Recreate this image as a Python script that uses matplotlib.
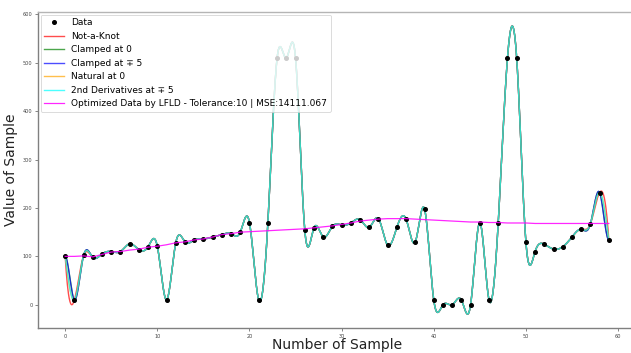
import numpy as np
import matplotlib
matplotlib.use("Agg")
import matplotlib.pyplot as plt

# ---- data ----
sample_x = list(range(60))
sample_y = [100, 10, 102, 98, 105, 110, 110, 126, 114, 120,
            121, 10, 128, 130, 134, 136, 140, 145, 147, 150,
            170, 10, 170, 510, 510, 510, 155, 159, 140, 162,
            165, 169, 176, 160, 178, 123, 160, 177, 130, 198,
            10, 0, 0, 10, 0, 170, 10, 170, 510, 510,
            130, 110, 125, 115, 120, 140, 156, 167, 232, 134]

optimized_y = [100, 100, 101, 99, 104, 109, 110, 113, 115, 119,
               121, 124, 128, 130, 134, 136, 140, 145, 147, 150,
               151, 152, 153, 154, 155, 156, 157, 159, 161, 163,
               166, 169, 173, 175, 177, 178, 178, 178, 177, 176,
               175, 174, 173, 172, 171, 171, 170, 170, 169, 169,
               169, 168, 168, 168, 168, 168, 168, 168, 168, 168]

series_labels = ["Not-a-Knot", "Clamped at 0", "Clamped at \u2213 5",
                 "Natural at 0", "2nd Derivatives at \u2213 5"]
series_bc = [("notaknot", None, None), ("d1", 0, 0), ("d1", -5, 5),
             ("d2", 0, 0), ("d2", -5, 5)]
series_colors = ["red", "green", "blue", "orange", "cyan"]
legend_last = "Optimized Data by LFLD - Tolerance:10 | MSE:14111.067"


def cubic_spline(x, y, kind, a, b):
    x = np.asarray(x, float)
    y = np.asarray(y, float)
    n = len(x) - 1
    h = np.diff(x)
    A = np.zeros((n + 1, n + 1))
    r = np.zeros(n + 1)
    for i in range(1, n):
        A[i, i - 1] = h[i - 1]
        A[i, i] = 2 * (h[i - 1] + h[i])
        A[i, i + 1] = h[i]
        r[i] = 6 * ((y[i + 1] - y[i]) / h[i] - (y[i] - y[i - 1]) / h[i - 1])
    if kind == "d2":
        A[0, 0] = 1
        r[0] = a
        A[n, n] = 1
        r[n] = b
    elif kind == "d1":
        A[0, 0] = 2 * h[0]
        A[0, 1] = h[0]
        r[0] = 6 * ((y[1] - y[0]) / h[0] - a)
        A[n, n - 1] = h[n - 1]
        A[n, n] = 2 * h[n - 1]
        r[n] = 6 * (b - (y[n] - y[n - 1]) / h[n - 1])
    else:
        A[0, 0] = h[1]
        A[0, 1] = -(h[0] + h[1])
        A[0, 2] = h[0]
        A[n, n - 2] = h[n - 1]
        A[n, n - 1] = -(h[n - 2] + h[n - 1])
        A[n, n] = h[n - 2]
    M = np.linalg.solve(A, r)

    def f(t):
        t = np.asarray(t, float)
        i = np.clip(np.searchsorted(x, t) - 1, 0, n - 1)
        hi = h[i]
        xl = x[i]
        xr = x[i + 1]
        return (M[i] * (xr - t) ** 3 / (6 * hi) + M[i + 1] * (t - xl) ** 3 / (6 * hi)
                + (y[i] / hi - M[i] * hi / 6) * (xr - t)
                + (y[i + 1] / hi - M[i + 1] * hi / 6) * (t - xl))
    return f


fig = plt.figure(figsize=(6.31, 3.53), dpi=100)
ax = fig.add_axes([38 / 631, 1 - 328 / 353, 598 / 631, 316 / 353])

ax.plot(sample_x, sample_y, "o", color="black", markersize=2.6,
        label="Data", zorder=4)

xs = np.linspace(0, 59, 1500)
for lab, (kind, a, b), col in zip(series_labels, series_bc, series_colors):
    f = cubic_spline(sample_x, sample_y, kind, a, b)
    ax.plot(xs, f(xs), color=col, lw=1.0, alpha=0.7, label=lab)

ax.plot(sample_x, optimized_y, color="magenta", lw=0.9, alpha=0.85,
        label=legend_last, zorder=5)

ax.set_xlim(-2.95, 61.95)
ax.set_ylim(-48, 605)
ax.set_xticks([0, 10, 20, 30, 40, 50, 60])
ax.set_yticks([0, 100, 200, 300, 400, 500, 600])
ax.tick_params(labelsize=3.6, length=2, width=0.5, colors="#555555",
               labelcolor="#444444", pad=2)

ax.spines["right"].set_visible(False)
ax.spines["left"].set_color("#808080")
ax.spines["bottom"].set_color("#808080")
ax.spines["top"].set_color("#b5b5b5")
for s in ax.spines.values():
    s.set_linewidth(1.0)

ax.set_xlabel("Number of Sample", fontsize=10, color="#222222")
ax.set_ylabel("Value of Sample", fontsize=10, color="#222222")
ax.xaxis.set_label_coords(0.5, -0.031)
ax.yaxis.set_label_coords(-0.033, 0.5)

leg = ax.legend(loc="upper left", fontsize=6.45, framealpha=0.8,
                borderaxespad=0.3, handlelength=2.2)
leg.get_frame().set_linewidth(0.6)

fig.savefig("out.png", dpi=100)
